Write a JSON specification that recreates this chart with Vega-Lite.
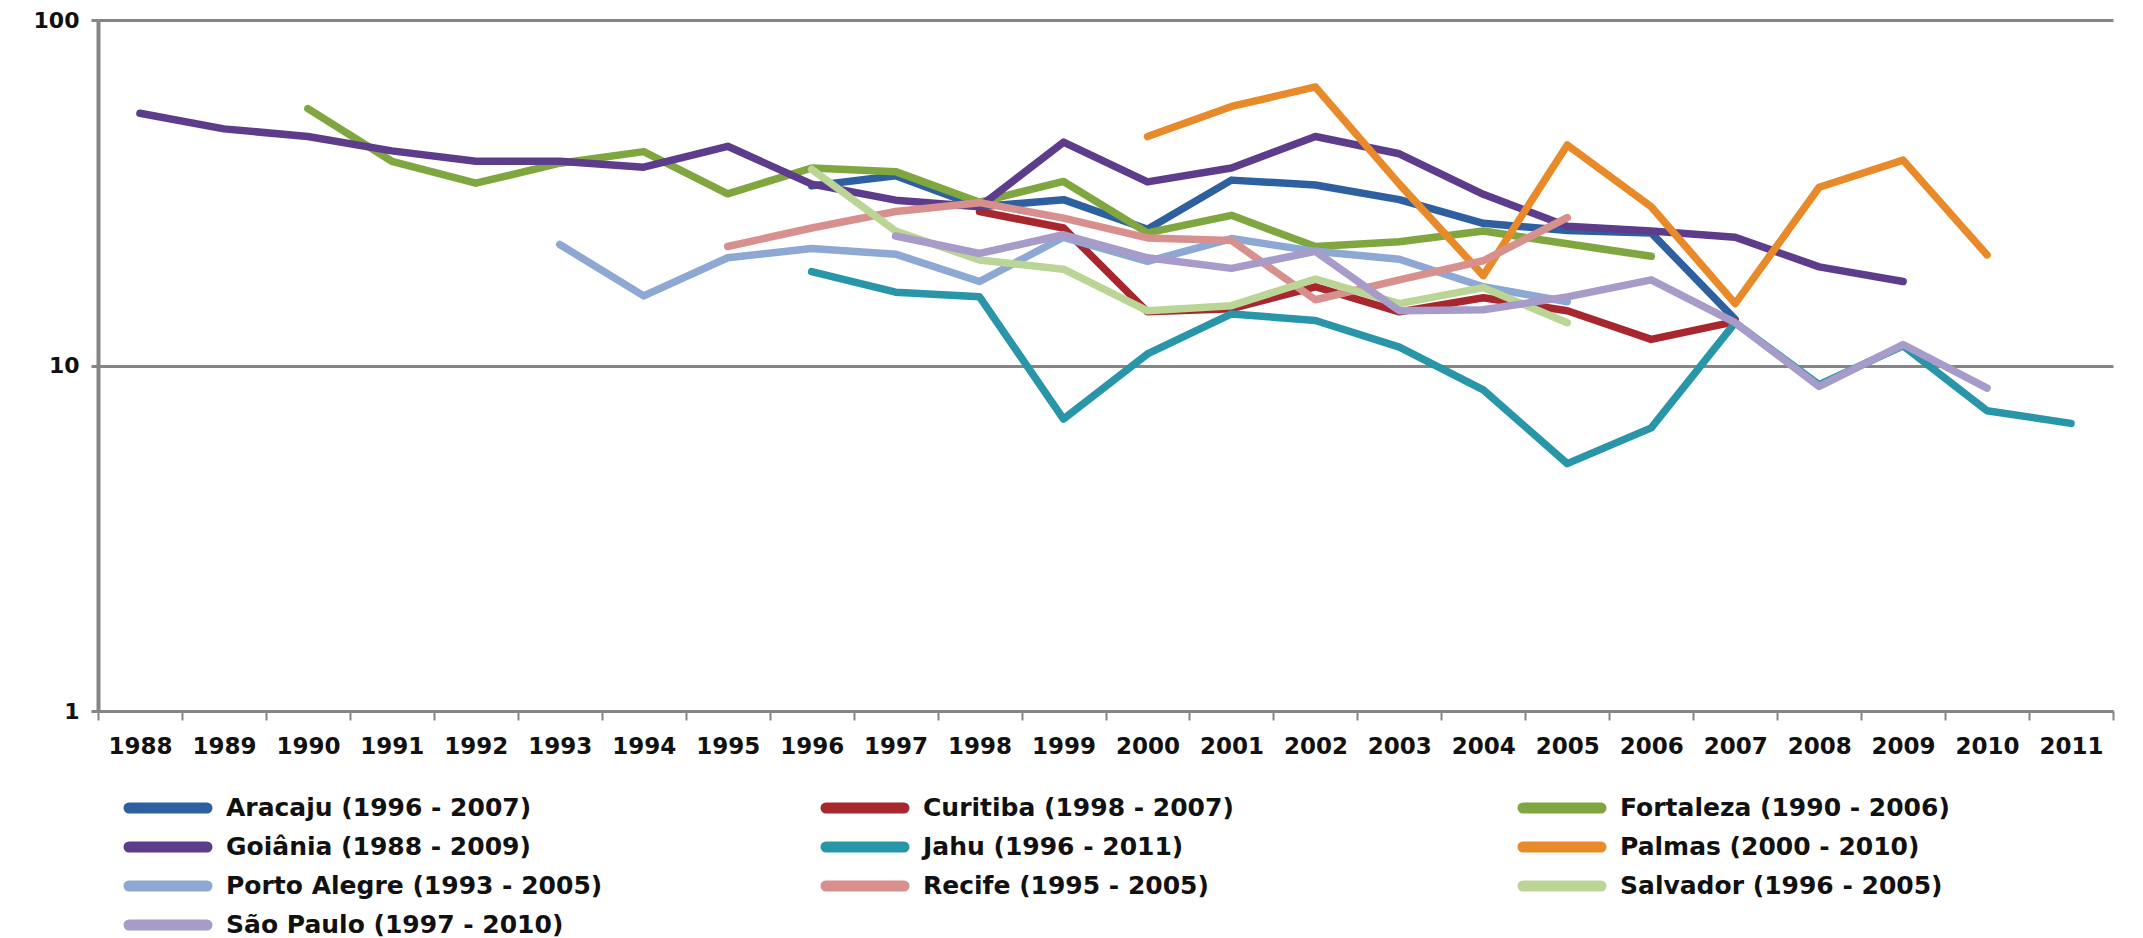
{
  "$schema": "https://vega.github.io/schema/vega-lite/v6.json",
  "autosize": {"type": "none"},
  "width": 2015,
  "height": 691,
  "padding": {"left": 98, "top": 20, "right": 30, "bottom": 227},
  "background": "white",
  "config": {
    "view": {"stroke": null},
    "font": "DejaVu Sans"
  },
  "data": {
    "values": [
      {"serie": "Aracaju (1996 - 2007)", "ano": "1996", "taxa": 33.1},
      {"serie": "Aracaju (1996 - 2007)", "ano": "1997", "taxa": 35.4},
      {"serie": "Aracaju (1996 - 2007)", "ano": "1998", "taxa": 28.8},
      {"serie": "Aracaju (1996 - 2007)", "ano": "1999", "taxa": 30.2},
      {"serie": "Aracaju (1996 - 2007)", "ano": "2000", "taxa": 24.8},
      {"serie": "Aracaju (1996 - 2007)", "ano": "2001", "taxa": 34.4},
      {"serie": "Aracaju (1996 - 2007)", "ano": "2002", "taxa": 33.3},
      {"serie": "Aracaju (1996 - 2007)", "ano": "2003", "taxa": 30.2},
      {"serie": "Aracaju (1996 - 2007)", "ano": "2004", "taxa": 25.8},
      {"serie": "Aracaju (1996 - 2007)", "ano": "2005", "taxa": 24.6},
      {"serie": "Aracaju (1996 - 2007)", "ano": "2006", "taxa": 24.2},
      {"serie": "Aracaju (1996 - 2007)", "ano": "2007", "taxa": 13.6},

      {"serie": "Curitiba (1998 - 2007)", "ano": "1998", "taxa": 27.9},
      {"serie": "Curitiba (1998 - 2007)", "ano": "1999", "taxa": 25.0},
      {"serie": "Curitiba (1998 - 2007)", "ano": "2000", "taxa": 14.3},
      {"serie": "Curitiba (1998 - 2007)", "ano": "2001", "taxa": 14.6},
      {"serie": "Curitiba (1998 - 2007)", "ano": "2002", "taxa": 16.9},
      {"serie": "Curitiba (1998 - 2007)", "ano": "2003", "taxa": 14.3},
      {"serie": "Curitiba (1998 - 2007)", "ano": "2004", "taxa": 15.7},
      {"serie": "Curitiba (1998 - 2007)", "ano": "2005", "taxa": 14.4},
      {"serie": "Curitiba (1998 - 2007)", "ano": "2006", "taxa": 11.9},
      {"serie": "Curitiba (1998 - 2007)", "ano": "2007", "taxa": 13.4},

      {"serie": "Fortaleza (1990 - 2006)", "ano": "1990", "taxa": 55.4},
      {"serie": "Fortaleza (1990 - 2006)", "ano": "1991", "taxa": 39.0},
      {"serie": "Fortaleza (1990 - 2006)", "ano": "1992", "taxa": 33.7},
      {"serie": "Fortaleza (1990 - 2006)", "ano": "1993", "taxa": 38.5},
      {"serie": "Fortaleza (1990 - 2006)", "ano": "1994", "taxa": 41.6},
      {"serie": "Fortaleza (1990 - 2006)", "ano": "1995", "taxa": 31.4},
      {"serie": "Fortaleza (1990 - 2006)", "ano": "1996", "taxa": 37.3},
      {"serie": "Fortaleza (1990 - 2006)", "ano": "1997", "taxa": 36.4},
      {"serie": "Fortaleza (1990 - 2006)", "ano": "1998", "taxa": 29.7},
      {"serie": "Fortaleza (1990 - 2006)", "ano": "1999", "taxa": 34.1},
      {"serie": "Fortaleza (1990 - 2006)", "ano": "2000", "taxa": 24.2},
      {"serie": "Fortaleza (1990 - 2006)", "ano": "2001", "taxa": 27.2},
      {"serie": "Fortaleza (1990 - 2006)", "ano": "2002", "taxa": 22.1},
      {"serie": "Fortaleza (1990 - 2006)", "ano": "2003", "taxa": 22.8},
      {"serie": "Fortaleza (1990 - 2006)", "ano": "2004", "taxa": 24.5},
      {"serie": "Fortaleza (1990 - 2006)", "ano": "2005", "taxa": 22.5},
      {"serie": "Fortaleza (1990 - 2006)", "ano": "2006", "taxa": 20.7},

      {"serie": "Goiânia (1988 - 2009)", "ano": "1988", "taxa": 53.7},
      {"serie": "Goiânia (1988 - 2009)", "ano": "1989", "taxa": 48.4},
      {"serie": "Goiânia (1988 - 2009)", "ano": "1990", "taxa": 46.0},
      {"serie": "Goiânia (1988 - 2009)", "ano": "1991", "taxa": 41.8},
      {"serie": "Goiânia (1988 - 2009)", "ano": "1992", "taxa": 39.0},
      {"serie": "Goiânia (1988 - 2009)", "ano": "1993", "taxa": 39.0},
      {"serie": "Goiânia (1988 - 2009)", "ano": "1994", "taxa": 37.5},
      {"serie": "Goiânia (1988 - 2009)", "ano": "1995", "taxa": 43.1},
      {"serie": "Goiânia (1988 - 2009)", "ano": "1996", "taxa": 33.5},
      {"serie": "Goiânia (1988 - 2009)", "ano": "1997", "taxa": 30.1},
      {"serie": "Goiânia (1988 - 2009)", "ano": "1998", "taxa": 28.8},
      {"serie": "Goiânia (1988 - 2009)", "ano": "1999", "taxa": 44.3},
      {"serie": "Goiânia (1988 - 2009)", "ano": "2000", "taxa": 34.0},
      {"serie": "Goiânia (1988 - 2009)", "ano": "2001", "taxa": 37.3},
      {"serie": "Goiânia (1988 - 2009)", "ano": "2002", "taxa": 46.0},
      {"serie": "Goiânia (1988 - 2009)", "ano": "2003", "taxa": 41.0},
      {"serie": "Goiânia (1988 - 2009)", "ano": "2004", "taxa": 31.3},
      {"serie": "Goiânia (1988 - 2009)", "ano": "2005", "taxa": 25.3},
      {"serie": "Goiânia (1988 - 2009)", "ano": "2006", "taxa": 24.5},
      {"serie": "Goiânia (1988 - 2009)", "ano": "2007", "taxa": 23.5},
      {"serie": "Goiânia (1988 - 2009)", "ano": "2008", "taxa": 19.3},
      {"serie": "Goiânia (1988 - 2009)", "ano": "2009", "taxa": 17.5},

      {"serie": "Jahu (1996 - 2011)", "ano": "1996", "taxa": 18.7},
      {"serie": "Jahu (1996 - 2011)", "ano": "1997", "taxa": 16.3},
      {"serie": "Jahu (1996 - 2011)", "ano": "1998", "taxa": 15.8},
      {"serie": "Jahu (1996 - 2011)", "ano": "1999", "taxa": 7.0},
      {"serie": "Jahu (1996 - 2011)", "ano": "2000", "taxa": 10.8},
      {"serie": "Jahu (1996 - 2011)", "ano": "2001", "taxa": 14.1},
      {"serie": "Jahu (1996 - 2011)", "ano": "2002", "taxa": 13.5},
      {"serie": "Jahu (1996 - 2011)", "ano": "2003", "taxa": 11.3},
      {"serie": "Jahu (1996 - 2011)", "ano": "2004", "taxa": 8.5},
      {"serie": "Jahu (1996 - 2011)", "ano": "2005", "taxa": 5.2},
      {"serie": "Jahu (1996 - 2011)", "ano": "2006", "taxa": 6.6},
      {"serie": "Jahu (1996 - 2011)", "ano": "2007", "taxa": 13.3},
      {"serie": "Jahu (1996 - 2011)", "ano": "2008", "taxa": 8.8},
      {"serie": "Jahu (1996 - 2011)", "ano": "2009", "taxa": 11.4},
      {"serie": "Jahu (1996 - 2011)", "ano": "2010", "taxa": 7.4},
      {"serie": "Jahu (1996 - 2011)", "ano": "2011", "taxa": 6.8},

      {"serie": "Palmas (2000 - 2010)", "ano": "2000", "taxa": 46.0},
      {"serie": "Palmas (2000 - 2010)", "ano": "2001", "taxa": 56.2},
      {"serie": "Palmas (2000 - 2010)", "ano": "2002", "taxa": 64.0},
      {"serie": "Palmas (2000 - 2010)", "ano": "2003", "taxa": 33.5},
      {"serie": "Palmas (2000 - 2010)", "ano": "2004", "taxa": 18.2},
      {"serie": "Palmas (2000 - 2010)", "ano": "2005", "taxa": 43.5},
      {"serie": "Palmas (2000 - 2010)", "ano": "2006", "taxa": 28.8},
      {"serie": "Palmas (2000 - 2010)", "ano": "2007", "taxa": 15.1},
      {"serie": "Palmas (2000 - 2010)", "ano": "2008", "taxa": 32.8},
      {"serie": "Palmas (2000 - 2010)", "ano": "2009", "taxa": 39.3},
      {"serie": "Palmas (2000 - 2010)", "ano": "2010", "taxa": 20.9},

      {"serie": "Porto Alegre (1993 - 2005)", "ano": "1993", "taxa": 22.4},
      {"serie": "Porto Alegre (1993 - 2005)", "ano": "1994", "taxa": 15.9},
      {"serie": "Porto Alegre (1993 - 2005)", "ano": "1995", "taxa": 20.5},
      {"serie": "Porto Alegre (1993 - 2005)", "ano": "1996", "taxa": 21.8},
      {"serie": "Porto Alegre (1993 - 2005)", "ano": "1997", "taxa": 21.0},
      {"serie": "Porto Alegre (1993 - 2005)", "ano": "1998", "taxa": 17.5},
      {"serie": "Porto Alegre (1993 - 2005)", "ano": "1999", "taxa": 23.5},
      {"serie": "Porto Alegre (1993 - 2005)", "ano": "2000", "taxa": 20.0},
      {"serie": "Porto Alegre (1993 - 2005)", "ano": "2001", "taxa": 23.3},
      {"serie": "Porto Alegre (1993 - 2005)", "ano": "2002", "taxa": 21.4},
      {"serie": "Porto Alegre (1993 - 2005)", "ano": "2003", "taxa": 20.3},
      {"serie": "Porto Alegre (1993 - 2005)", "ano": "2004", "taxa": 16.9},
      {"serie": "Porto Alegre (1993 - 2005)", "ano": "2005", "taxa": 15.3},

      {"serie": "Recife (1995 - 2005)", "ano": "1995", "taxa": 22.1},
      {"serie": "Recife (1995 - 2005)", "ano": "1996", "taxa": 25.0},
      {"serie": "Recife (1995 - 2005)", "ano": "1997", "taxa": 27.9},
      {"serie": "Recife (1995 - 2005)", "ano": "1998", "taxa": 29.6},
      {"serie": "Recife (1995 - 2005)", "ano": "1999", "taxa": 26.7},
      {"serie": "Recife (1995 - 2005)", "ano": "2000", "taxa": 23.4},
      {"serie": "Recife (1995 - 2005)", "ano": "2001", "taxa": 23.0},
      {"serie": "Recife (1995 - 2005)", "ano": "2002", "taxa": 15.5},
      {"serie": "Recife (1995 - 2005)", "ano": "2003", "taxa": 17.7},
      {"serie": "Recife (1995 - 2005)", "ano": "2004", "taxa": 20.1},
      {"serie": "Recife (1995 - 2005)", "ano": "2005", "taxa": 26.8},

      {"serie": "Salvador (1996 - 2005)", "ano": "1996", "taxa": 37.0},
      {"serie": "Salvador (1996 - 2005)", "ano": "1997", "taxa": 24.5},
      {"serie": "Salvador (1996 - 2005)", "ano": "1998", "taxa": 20.2},
      {"serie": "Salvador (1996 - 2005)", "ano": "1999", "taxa": 19.0},
      {"serie": "Salvador (1996 - 2005)", "ano": "2000", "taxa": 14.4},
      {"serie": "Salvador (1996 - 2005)", "ano": "2001", "taxa": 14.9},
      {"serie": "Salvador (1996 - 2005)", "ano": "2002", "taxa": 17.8},
      {"serie": "Salvador (1996 - 2005)", "ano": "2003", "taxa": 15.1},
      {"serie": "Salvador (1996 - 2005)", "ano": "2004", "taxa": 16.8},
      {"serie": "Salvador (1996 - 2005)", "ano": "2005", "taxa": 13.3},

      {"serie": "São Paulo (1997 - 2010)", "ano": "1997", "taxa": 23.7},
      {"serie": "São Paulo (1997 - 2010)", "ano": "1998", "taxa": 21.1},
      {"serie": "São Paulo (1997 - 2010)", "ano": "1999", "taxa": 23.9},
      {"serie": "São Paulo (1997 - 2010)", "ano": "2000", "taxa": 20.5},
      {"serie": "São Paulo (1997 - 2010)", "ano": "2001", "taxa": 19.1},
      {"serie": "São Paulo (1997 - 2010)", "ano": "2002", "taxa": 21.4},
      {"serie": "São Paulo (1997 - 2010)", "ano": "2003", "taxa": 14.4},
      {"serie": "São Paulo (1997 - 2010)", "ano": "2004", "taxa": 14.5},
      {"serie": "São Paulo (1997 - 2010)", "ano": "2005", "taxa": 15.8},
      {"serie": "São Paulo (1997 - 2010)", "ano": "2006", "taxa": 17.7},
      {"serie": "São Paulo (1997 - 2010)", "ano": "2007", "taxa": 13.3},
      {"serie": "São Paulo (1997 - 2010)", "ano": "2008", "taxa": 8.7},
      {"serie": "São Paulo (1997 - 2010)", "ano": "2009", "taxa": 11.5},
      {"serie": "São Paulo (1997 - 2010)", "ano": "2010", "taxa": 8.6}
    ]
  },
  "mark": {
    "type": "line",
    "strokeWidth": 7.5,
    "strokeCap": "round",
    "strokeJoin": "round"
  },
  "encoding": {
    "x": {
      "field": "ano",
      "type": "ordinal",
      "bandPosition": 0.5,
      "scale": {
        "type": "band",
        "paddingInner": 0,
        "paddingOuter": 0,
        "domain": ["1988", "1989", "1990", "1991", "1992", "1993", "1994", "1995", "1996", "1997", "1998", "1999", "2000", "2001", "2002", "2003", "2004", "2005", "2006", "2007", "2008", "2009", "2010", "2011"]
      },
      "axis": {
        "title": null,
        "labelAngle": 0,
        "tickBand": "extent",
        "labelFont": "DejaVu Sans",
        "labelFontWeight": "bold",
        "labelFontSize": 23,
        "labelColor": "#111111",
        "labelPadding": 15,
        "domainColor": "#858585",
        "domainWidth": 3,
        "tickColor": "#858585",
        "tickWidth": 2,
        "tickSize": 9,
        "grid": false
      }
    },
    "y": {
      "field": "taxa",
      "type": "quantitative",
      "scale": {"type": "log", "domain": [1, 100], "nice": false},
      "axis": {
        "title": null,
        "values": [1, 10, 100],
        "format": "d",
        "labelFont": "DejaVu Sans",
        "labelFontWeight": "bold",
        "labelFontSize": 22,
        "labelColor": "#111111",
        "labelPadding": 12,
        "domainColor": "#858585",
        "domainWidth": 4,
        "tickColor": "#858585",
        "tickWidth": 3,
        "tickSize": 7,
        "grid": true,
        "gridColor": "#858585",
        "gridWidth": 3
      }
    },
    "color": {
      "field": "serie",
      "type": "nominal",
      "scale": {
        "domain": ["Aracaju (1996 - 2007)", "Curitiba (1998 - 2007)", "Fortaleza (1990 - 2006)", "Goiânia (1988 - 2009)", "Jahu (1996 - 2011)", "Palmas (2000 - 2010)", "Porto Alegre (1993 - 2005)", "Recife (1995 - 2005)", "Salvador (1996 - 2005)", "São Paulo (1997 - 2010)"],
        "range": ["#2E5FA0", "#A8272F", "#7FA63F", "#5D3C8C", "#2896A8", "#E98A2A", "#8EA8D4", "#D8908F", "#BAD595", "#A79BC9"]
      },
      "legend": {
        "title": null,
        "orient": "none",
        "direction": "horizontal",
        "legendX": 53,
        "legendY": 771,
        "columns": 3,
        "gridAlign": "all",
        "columnPadding": 200,
        "rowPadding": -6,
        "padding": 0,
        "symbolType": "M-3.5,0H3.5",
        "symbolSize": 497,
        "symbolStrokeWidth": 11,
        "symbolOffset": 0,
        "labelFont": "DejaVu Sans",
        "labelFontWeight": "bold",
        "labelFontSize": 25,
        "labelColor": "#111111",
        "labelOffset": 41,
        "labelLimit": 0,
        "encode": {
          "symbols": {"update": {"strokeCap": {"value": "round"}}}
        }
      }
    }
  }
}
